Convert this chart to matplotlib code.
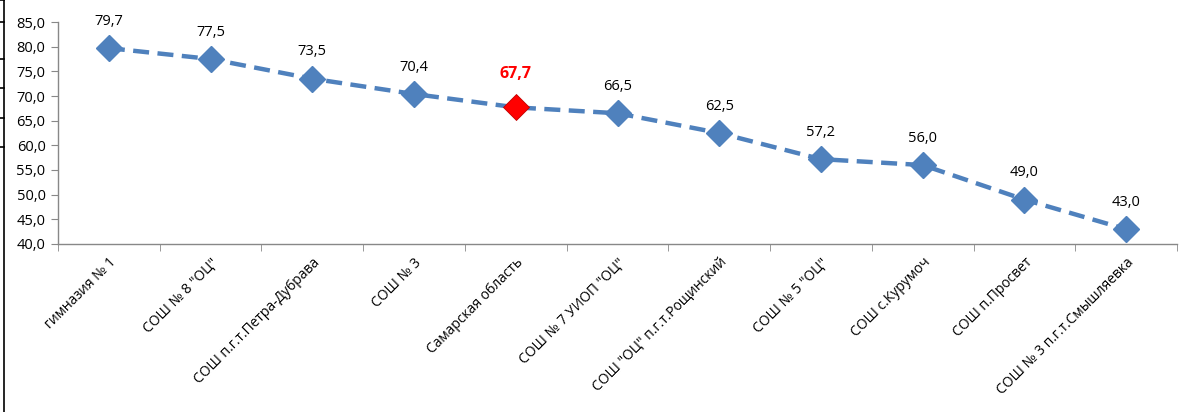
import matplotlib.pyplot as plt
from matplotlib.lines import Line2D
from matplotlib.ticker import FixedLocator

plt.rcParams['font.family'] = ['Open Sans', 'DejaVu Sans']

schools = ['гимназия № 1', 'СОШ № 8 "ОЦ"', 'СОШ п.г.т.Петра-Дубрава', 'СОШ № 3',
           'Самарская область', 'СОШ № 7 УИОП "ОЦ"', 'СОШ "ОЦ" п.г.т.Рощинский',
           'СОШ № 5 "ОЦ"', 'СОШ с.Курумоч', 'СОШ п.Просвет', 'СОШ № 3 п.г.т.Смышляевка']
scores = [79.7, 77.5, 73.5, 70.4, 67.7, 66.5, 62.5, 57.2, 56.0, 49.0, 43.0]
region = 'Самарская область'

blue = '#4F81BD'
fig = plt.figure(figsize=(11.84, 4.12), dpi=100)
ax = fig.add_axes([58 / 1184, 1 - 244 / 412, (1177 - 58) / 1184, (244 - 22) / 412])

x = list(range(len(schools)))
ax.plot(x, scores, color=blue, lw=3.2, dashes=(3.6, 1.9), zorder=2)
for i, (name, v) in enumerate(zip(schools, scores)):
    if name == region:
        ax.plot(i, v, marker='D', ms=13.5, mfc='red', mec='#C00000', mew=0.6, zorder=3)
        ax.annotate(f'{v:.1f}'.replace('.', ','), (i, v), xytext=(0, 18), textcoords='offset points',
                    ha='center', va='bottom', color='red', fontsize=11.5, fontweight='bold')
    else:
        ax.plot(i, v, marker='D', ms=13.5, mfc=blue, mec=blue, zorder=3)
        ax.annotate(f'{v:.1f}'.replace('.', ','), (i, v), xytext=(0, 14), textcoords='offset points',
                    ha='center', va='bottom', color='black', fontsize=10.5)

ax.set_xlim(-0.5, len(schools) - 0.5)
ax.set_ylim(40, 85)
ax.set_yticks(range(40, 90, 5))
ax.set_yticklabels([f'{t},0' for t in range(40, 90, 5)], fontsize=10.5)
ax.set_xticks(x)
ax.set_xticklabels(schools, rotation=45, ha='right', va='top', rotation_mode='anchor', fontsize=10)
ax.xaxis.set_minor_locator(FixedLocator([i - 0.5 for i in range(len(schools) + 1)]))
ax.tick_params(axis='x', which='major', length=0, pad=8)
ax.tick_params(axis='x', which='minor', length=5, color='#888888')
ax.tick_params(axis='y', length=5, color='#888888', pad=4)
for s in ['top', 'right']:
    ax.spines[s].set_visible(False)
for s in ['left', 'bottom']:
    ax.spines[s].set_color('#888888')
    ax.spines[s].set_linewidth(1)

# leftover table border at the left edge
fig.add_artist(Line2D([4 / 1184, 4 / 1184], [0, 1], color='black', lw=1.2))
for yy in [0, 22, 59, 88, 118, 147]:
    fig.add_artist(Line2D([0, 4 / 1184], [1 - yy / 412] * 2, color='black', lw=1.2))

fig.savefig('out.png', dpi=100)
